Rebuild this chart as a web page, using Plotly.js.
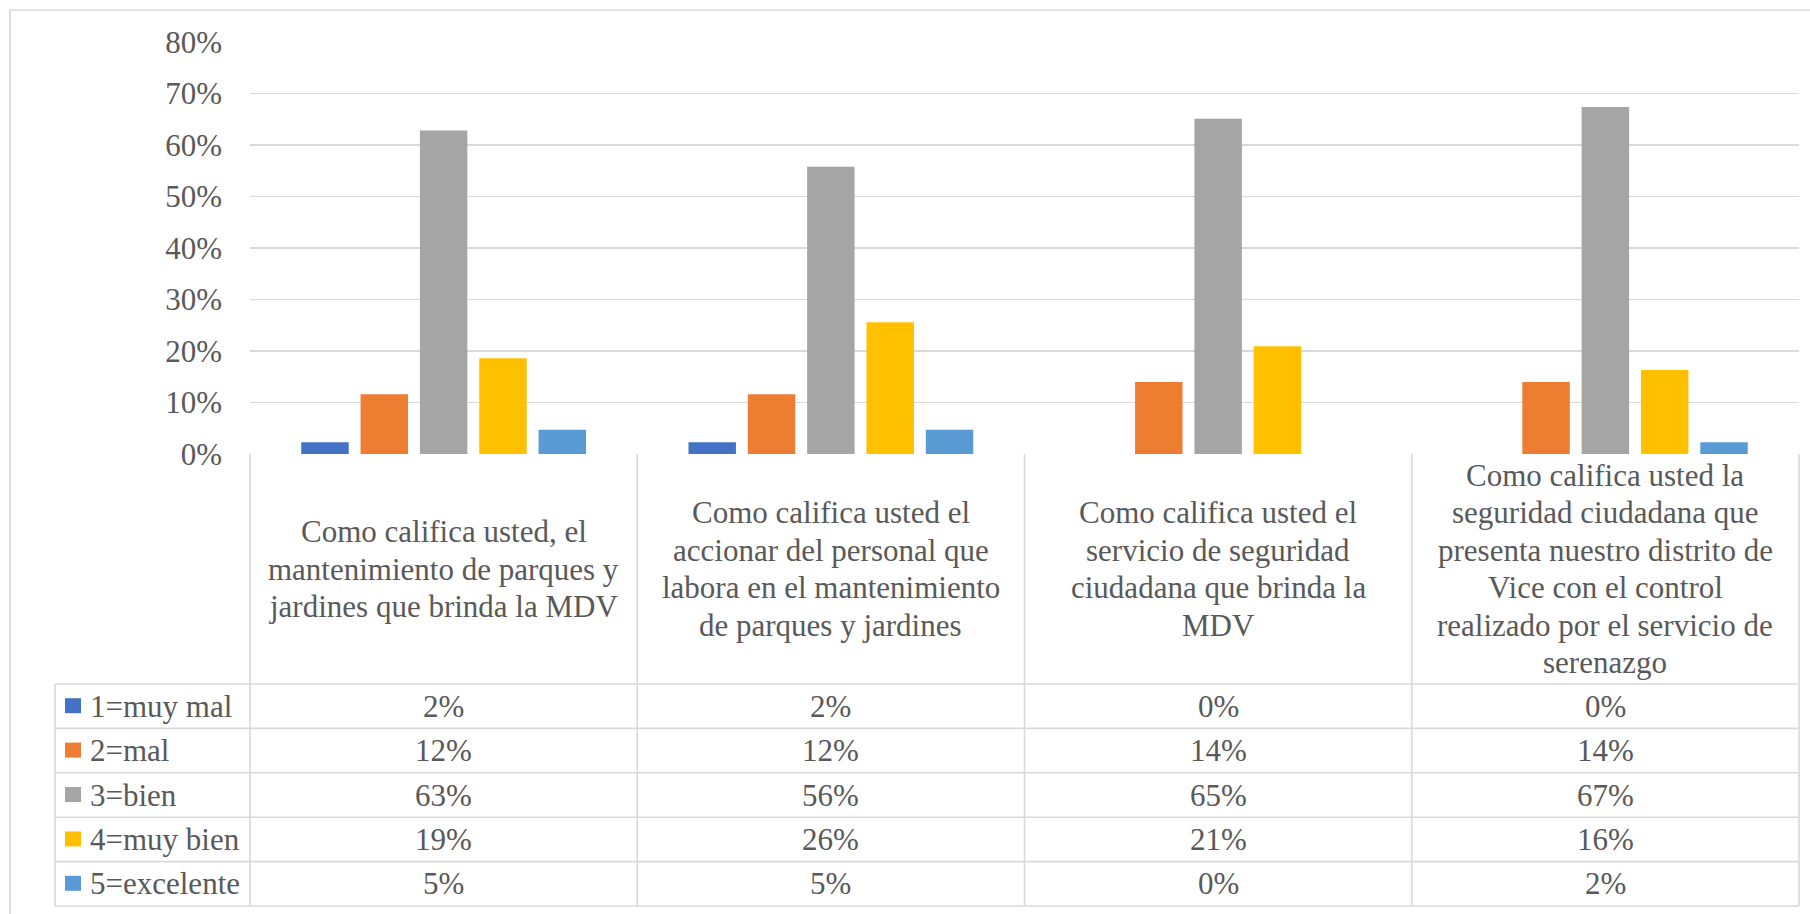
<!DOCTYPE html>
<html>
<head>
<meta charset="utf-8">
<script src="https://cdn.plot.ly/plotly-3.0.1.min.js"></script>
<style>
  html, body { margin: 0; padding: 0; background: #ffffff; }
  #chart { width: 1810px; height: 914px; }
</style>
</head>
<body>
<div id="chart"></div>
<script>
// ---------- data ----------
const questions = [
  "Como califica usted, el<br>mantenimiento de parques y<br>jardines que brinda la MDV",
  "Como califica usted el<br>accionar del personal que<br>labora en el mantenimiento<br>de parques y jardines",
  "Como califica usted el<br>servicio de seguridad<br>ciudadana que brinda la<br>MDV",
  "Como califica usted la<br>seguridad ciudadana que<br>presenta nuestro distrito de<br>Vice con el control<br>realizado por el servicio de<br>serenazgo"
];
const seriesNames = ["1=muy mal", "2=mal", "3=bien", "4=muy bien", "5=excelente"];
const muyMal    = [0.023, 0.023, 0.000, 0.000];
const mal       = [0.116, 0.116, 0.140, 0.140];
const bien      = [0.628, 0.558, 0.651, 0.674];
const muyBien   = [0.186, 0.256, 0.209, 0.163];
const excelente = [0.047, 0.047, 0.000, 0.023];
const yTickVals = [0, 0.1, 0.2, 0.3, 0.4, 0.5, 0.6, 0.7, 0.8];

const seriesValues = [muyMal, mal, bien, muyBien, excelente];
const colors = ["#4472C4", "#ED7D31", "#A5A5A5", "#FFC000", "#5B9BD5"];

// ---------- geometry helpers (pixel -> paper) ----------
const W = 1810, H = 914;
const M = { l: 55, r: 11, t: 42, b: 8 };
const PW = W - M.l - M.r, PH = H - M.t - M.b;
const xp = px => (px - M.l) / PW;
const yp = py => (H - M.b - py) / PH;

const plotLeft = 250, plotRight = 1799, axisY = 454;
const headerBottom = 684, rowH = 44.4;
const gridColor = "#D9D9D9";
const textColor = "#595959";
const fontFam = "Liberation Serif";
const fs = 31;

const xIdx = questions.map((q, i) => i);

const traces = seriesNames.map((name, s) => ({
  type: "bar",
  name: name,
  x: xIdx,
  y: seriesValues[s],
  marker: { color: colors[s], line: { width: 0 } },
  hoverinfo: "skip"
}));

const shapes = [];
const line = (x0, y0, x1, y1) => shapes.push({
  type: "line", xref: "paper", yref: "paper",
  x0: xp(x0), y0: yp(y0), x1: xp(x1), y1: yp(y1),
  line: { color: gridColor, width: 1.6 }, layer: "above"
});

// outer chart border
shapes.push({
  type: "rect", xref: "paper", yref: "paper",
  x0: xp(10), y0: yp(10), x1: xp(1812), y1: yp(916),
  line: { color: gridColor, width: 1.6 }, fillcolor: "rgba(0,0,0,0)", layer: "below"
});

// table horizontal lines
for (let k = 0; k <= seriesNames.length; k++) {
  const y = headerBottom + k * rowH;
  line(55, y, plotRight, y);
}
const tableBottom = headerBottom + seriesNames.length * rowH;
// table vertical lines
line(55, headerBottom, 55, tableBottom);
const colW = (plotRight - plotLeft) / questions.length;
for (let i = 0; i <= questions.length; i++) {
  const x = plotLeft + i * colW;
  line(x, axisY, x, tableBottom);
}

const tf = () => ({ family: fontFam, size: fs, color: textColor });

const annotations = [];
// header texts (vertically centred, one annotation per line)
const headerCenter = (axisY + headerBottom) / 2;
const lineGap = 37.5;
questions.forEach((q, i) => {
  const lines = q.split("<br>");
  const n = lines.length;
  lines.forEach((t, k) => {
    annotations.push({
      xref: "x", yref: "paper", x: i,
      y: yp(headerCenter + (k - (n - 1) / 2) * lineGap),
      text: t, showarrow: false, xanchor: "center", yanchor: "middle",
      font: tf()
    });
  });
});

// rows: legend keys + values
seriesNames.forEach((name, s) => {
  const cy = headerBottom + (s + 0.5) * rowH;
  shapes.push({
    type: "rect", xref: "paper", yref: "paper",
    x0: xp(65), x1: xp(81), y0: yp(cy - 8), y1: yp(cy + 7),
    fillcolor: colors[s], line: { width: 0 }
  });
  annotations.push({
    xref: "paper", yref: "paper", x: xp(88), y: yp(cy),
    text: name, showarrow: false, xanchor: "left", yanchor: "middle",
    font: tf()
  });
  seriesValues[s].forEach((v, i) => {
    annotations.push({
      xref: "x", yref: "paper", x: i, y: yp(cy),
      text: Math.round(v * 100) + "%", showarrow: false,
      xanchor: "center", yanchor: "middle",
      font: tf()
    });
  });
});

const layout = {
  width: W, height: H,
  margin: M,
  paper_bgcolor: "#ffffff",
  plot_bgcolor: "#ffffff",
  font: tf(),
  showlegend: false,
  barmode: "group",
  bargap: 0.234,
  bargroupgap: 0.2,
  xaxis: {
    domain: [xp(plotLeft), 1],
    type: "category",
    range: [-0.5, questions.length - 0.5],
    showticklabels: false, showgrid: false, zeroline: false, showline: false,
    ticks: "", fixedrange: true
  },
  yaxis: {
    domain: [yp(axisY), 1],
    range: [0, 0.8],
    tickvals: yTickVals,
    tickformat: ".0%",
    showgrid: true, gridcolor: gridColor, gridwidth: 1.4,
    zeroline: false, showline: false, ticks: "",
    ticklabelstandoff: 27,
    tickfont: tf(),
    fixedrange: true
  },
  shapes: shapes,
  annotations: annotations
};

Plotly.newPlot("chart", traces, layout, { displayModeBar: false, staticPlot: true });
</script>
</body>
</html>
